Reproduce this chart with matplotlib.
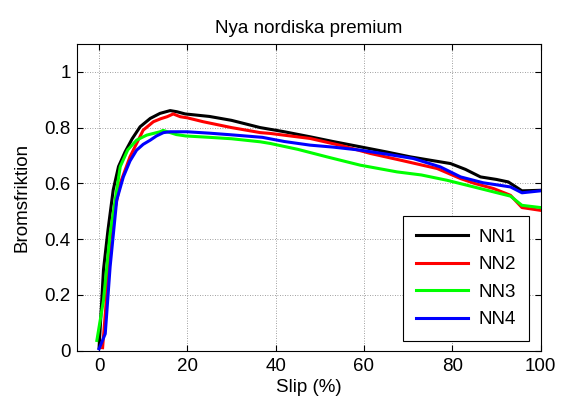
import matplotlib
matplotlib.use("Agg")
import matplotlib.pyplot as plt

plt.rcParams['font.family'] = ['Liberation Sans', 'DejaVu Sans']

title = "Nya nordiska premium"
xlabel = "Slip (%)"
ylabel = "Bromsfriktion"
labels = ["NN1", "NN2", "NN3", "NN4"]
colors = ["#000000", "#ff0000", "#00ff00", "#0000ff"]

nn1_x = [0, 1, 2, 3.2, 4.4, 5.9, 7.5, 9.3, 11.6, 13.8, 16.1, 17.6, 19.5, 25, 30, 36.5, 42, 47.8, 53, 59.2, 65, 70.5, 75, 79.6, 83, 86.4, 90, 92.7, 95.8, 100]
nn1_y = [0.01, 0.29, 0.43, 0.576, 0.66, 0.713, 0.76, 0.803, 0.833, 0.851, 0.861, 0.857, 0.849, 0.84, 0.826, 0.80, 0.785, 0.767, 0.75, 0.731, 0.713, 0.695, 0.683, 0.671, 0.65, 0.623, 0.614, 0.605, 0.573, 0.575]

nn2_x = [0.8, 1.5, 2.5, 3.5, 4.8, 7.0, 10.0, 12.3, 14, 15.4, 16.8, 18.4, 20, 23.6, 30, 36.5, 38.8, 47.8, 55, 61.5, 68.3, 76.6, 81.9, 85, 89.4, 93.2, 95.8, 100]
nn2_y = [0.01, 0.15, 0.396, 0.5, 0.6, 0.695, 0.791, 0.821, 0.832, 0.839, 0.849, 0.839, 0.835, 0.821, 0.80, 0.782, 0.779, 0.761, 0.735, 0.707, 0.683, 0.653, 0.617, 0.60, 0.581, 0.557, 0.513, 0.503]

nn3_x = [-0.5, 1.0, 2.5, 4.8, 6.5, 8.5, 10.8, 13.8, 14.5, 16.1, 17.5, 19.6, 25, 30, 36.5, 38.8, 45, 51.6, 59.2, 67.5, 73, 78.8, 86.4, 93.2, 95.8, 100]
nn3_y = [0.036, 0.18, 0.42, 0.66, 0.72, 0.755, 0.773, 0.785, 0.79, 0.782, 0.775, 0.77, 0.765, 0.76, 0.749, 0.743, 0.722, 0.695, 0.665, 0.641, 0.63, 0.611, 0.581, 0.554, 0.521, 0.513]

nn4_x = [0, 1.4, 2.5, 4.0, 5.5, 7, 8.5, 10, 11.6, 13, 14.6, 16.1, 19.9, 25, 30, 37, 42, 47.8, 53, 59.2, 65, 71.2, 77.3, 81.9, 87, 93.2, 95.8, 100]
nn4_y = [0.006, 0.06, 0.3, 0.54, 0.623, 0.68, 0.719, 0.74, 0.755, 0.77, 0.782, 0.785, 0.785, 0.78, 0.774, 0.765, 0.75, 0.737, 0.73, 0.719, 0.705, 0.689, 0.659, 0.623, 0.602, 0.587, 0.566, 0.573]

xticks = [0, 20, 40, 60, 80, 100]
yticks = [0, 0.2, 0.4, 0.6, 0.8, 1]
ytick_labels = ["0", "0.2", "0.4", "0.6", "0.8", "1"]

FS = 13.5

fig = plt.figure(figsize=(5.61, 4.07), dpi=100)
ax = fig.add_axes([77/561, 1 - 350.5/407, (540.5 - 77)/561, (350.5 - 44)/407])

series = [(nn1_x, nn1_y), (nn2_x, nn2_y), (nn3_x, nn3_y), (nn4_x, nn4_y)]
for (xs, ys), lab, c in zip(series, labels, colors):
    ax.plot(xs, ys, color=c, lw=2.2, label=lab)

ax.set_xlim(-5, 100)
ax.set_ylim(0, 1.1)
ax.set_xticks(xticks)
ax.set_yticks(yticks)
ax.set_xticklabels([str(t) for t in xticks])
ax.set_yticklabels(ytick_labels)
ax.grid(True, color="#808080", linestyle=(0, (1, 2)), linewidth=0.6)
ax.tick_params(direction='in', top=True, right=True, length=4, width=0.8, labelsize=FS)
ax.tick_params(axis='x', pad=5.5)
ax.tick_params(axis='y', pad=4.5)
for s in ax.spines.values():
    s.set_linewidth(0.8)

ax.set_title(title, fontsize=FS, pad=8)
ax.set_xlabel(xlabel, fontsize=FS, labelpad=3)
ax.set_ylabel(ylabel, fontsize=FS, labelpad=10)

leg = ax.legend(loc='lower right', bbox_to_anchor=(0.976, 0.03), borderaxespad=0,
                fontsize=FS, handlelength=2.8, handletextpad=0.55, labelspacing=0.55,
                fancybox=False, framealpha=1, edgecolor='black', borderpad=0.7)
leg.get_frame().set_linewidth(0.8)

fig.savefig("out.png", dpi=100)
